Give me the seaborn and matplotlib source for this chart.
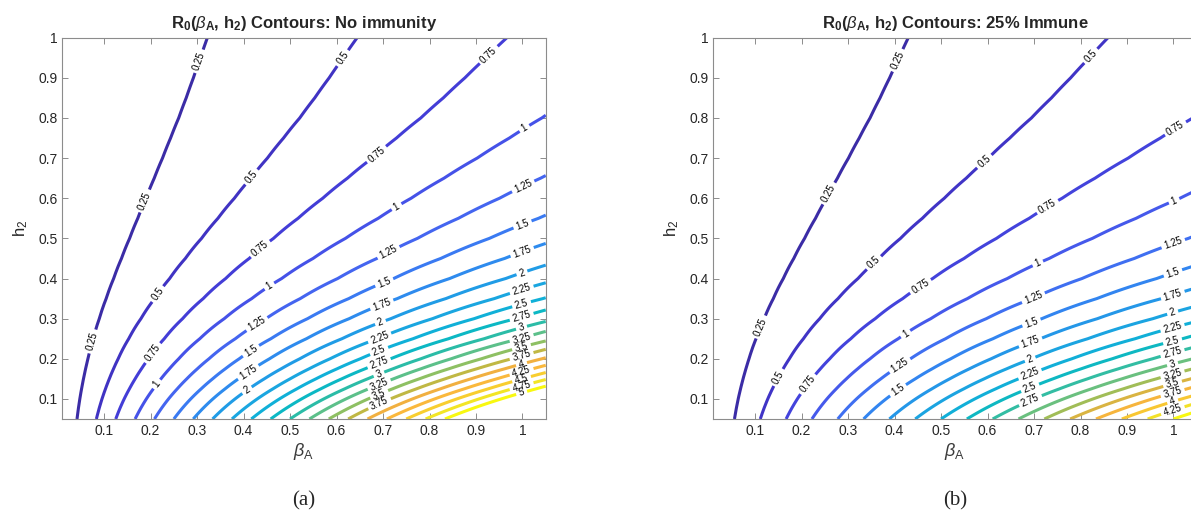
import numpy as np
import matplotlib
matplotlib.use("Agg")
import matplotlib.pyplot as plt
import seaborn as sns

# R0 per unit beta_A (no immunity), read along h2
h2_vals = [0.05, 0.075, 0.1, 0.125, 0.15, 0.175, 0.2, 0.25, 0.3, 0.35,
           0.4, 0.45, 0.5, 0.55, 0.6, 0.65, 0.7, 0.75, 0.8, 0.85, 0.9, 0.95, 1.0]
r0_per_beta = [6.0, 5.62, 5.24, 4.86, 4.5, 4.16, 3.84, 3.27, 2.79, 2.395,
               2.075, 1.82, 1.615, 1.45, 1.315, 1.203, 1.108, 1.029, 0.960,
               0.904, 0.856, 0.814, 0.776]
immune_frac = [0.0, 0.25]
contour_levels = [0.25, 0.5, 0.75, 1, 1.25, 1.5, 1.75, 2, 2.25, 2.5,
                  2.75, 3, 3.25, 3.5, 3.75, 4, 4.25, 4.5, 4.75, 5]
titles = ["Contours: No immunity", "Contours: 25% Immune"]
captions = ["(a)", "(b)"]
ticks = [0.1, 0.2, 0.3, 0.4, 0.5, 0.6, 0.7, 0.8, 0.9, 1.0]
tick_labels = ["0.1", "0.2", "0.3", "0.4", "0.5", "0.6", "0.7", "0.8", "0.9", "1"]

# line colours, lowest to highest level (parula-like)
line_colors = ["#3b2ca6", "#4033c4", "#433ed8", "#4552e8", "#4466f0", "#3a7af2",
               "#2d8cee", "#209ce6", "#1aa6e0", "#10b0d8", "#0cb8c4", "#2abca8",
               "#5cc08a", "#8cc064", "#c0b844", "#f0b040", "#fab83c", "#f8cc30",
               "#f2e426", "#f8f810"]

sns.set_theme(style="ticks")
plt.rcParams["font.family"] = ["Liberation Sans", "DejaVu Sans"]
plt.rcParams["mathtext.fontset"] = "custom"
plt.rcParams["mathtext.rm"] = "Liberation Sans"
plt.rcParams["mathtext.bf"] = "Liberation Sans:bold"
plt.rcParams["mathtext.it"] = "Liberation Sans:italic"

beta = np.linspace(0.01, 1.05, 209)
h2 = np.array(h2_vals)


def label_spots(ax, path, gap=150, end_off=25):
    # spots along each line, counted back from its upper/right end (in pixels)
    verts, codes = path.vertices, path.codes
    if len(verts) == 0:
        return []
    starts = list(np.where(codes == 1)[0]) + [len(verts)]
    spots = []
    for a, b in zip(starts[:-1], starts[1:]):
        seg = verts[a:b]
        if seg[0, 1] > seg[-1, 1]:
            seg = seg[::-1]
        d = ax.transData.transform(seg)
        s = np.concatenate([[0], np.cumsum(np.hypot(*np.diff(d, axis=0).T))])
        t = s[-1] - end_off
        while t > 20:
            spots.append((np.interp(t, s, seg[:, 0]), np.interp(t, s, seg[:, 1])))
            t -= gap
    return spots


fig = plt.figure(figsize=(11.91, 5.15), dpi=100)
lefts = [0.0523, 0.5989]
for i, im in enumerate(immune_frac):
    ax = fig.add_axes([lefts[i], 0.1864, 0.4059, 0.7404])
    ax.set_xlim(0.01, 1.05)
    ax.set_ylim(0.05, 1.0)
    Z = np.outer(r0_per_beta, beta) * (1 - im)
    levels = [v for v in contour_levels if v <= Z.max()]
    cols = sns.blend_palette(line_colors, n_colors=len(levels))
    cs = ax.contour(beta, h2, Z, levels=levels, colors=cols, linewidths=2.2)
    spots = []
    for p in cs.get_paths():
        spots += label_spots(ax, p)
    cs.clabel(manual=spots, fmt=lambda v: f"{v:g}", fontsize=7, colors="black",
              inline=True, inline_spacing=3)
    ax.set_xlim(0.01, 1.05)
    ax.set_ylim(0.05, 1.0)
    ax.set_xticks(ticks)
    ax.set_xticklabels(tick_labels)
    ax.set_yticks(ticks)
    ax.set_yticklabels(tick_labels)
    ax.tick_params(direction="in", length=4, width=0.7, colors="#8c8c8c",
                   labelcolor="#262626", labelsize=10, top=True, right=True)
    for s in ax.spines.values():
        s.set_visible(True)
        s.set_color("#8c8c8c")
        s.set_linewidth(0.8)
    ax.set_xlabel(r"$\beta_{\mathrm{A}}$", fontsize=13, color="#3a3a3a", labelpad=2)
    ax.set_ylabel(r"h$_2$", fontsize=12, color="#262626", labelpad=6)
    ax.set_title(r"$\mathbf{R_0(}\beta_{\mathbf{A}}\mathbf{,}$ $\mathbf{h_2)}$ " + titles[i],
                 fontsize=12, fontweight="bold", pad=7)
    ax.text(0.5, -0.215, captions[i], transform=ax.transAxes, ha="center", va="center",
            fontsize=15, family="Liberation Serif")

fig.savefig("out.png", dpi=100)
